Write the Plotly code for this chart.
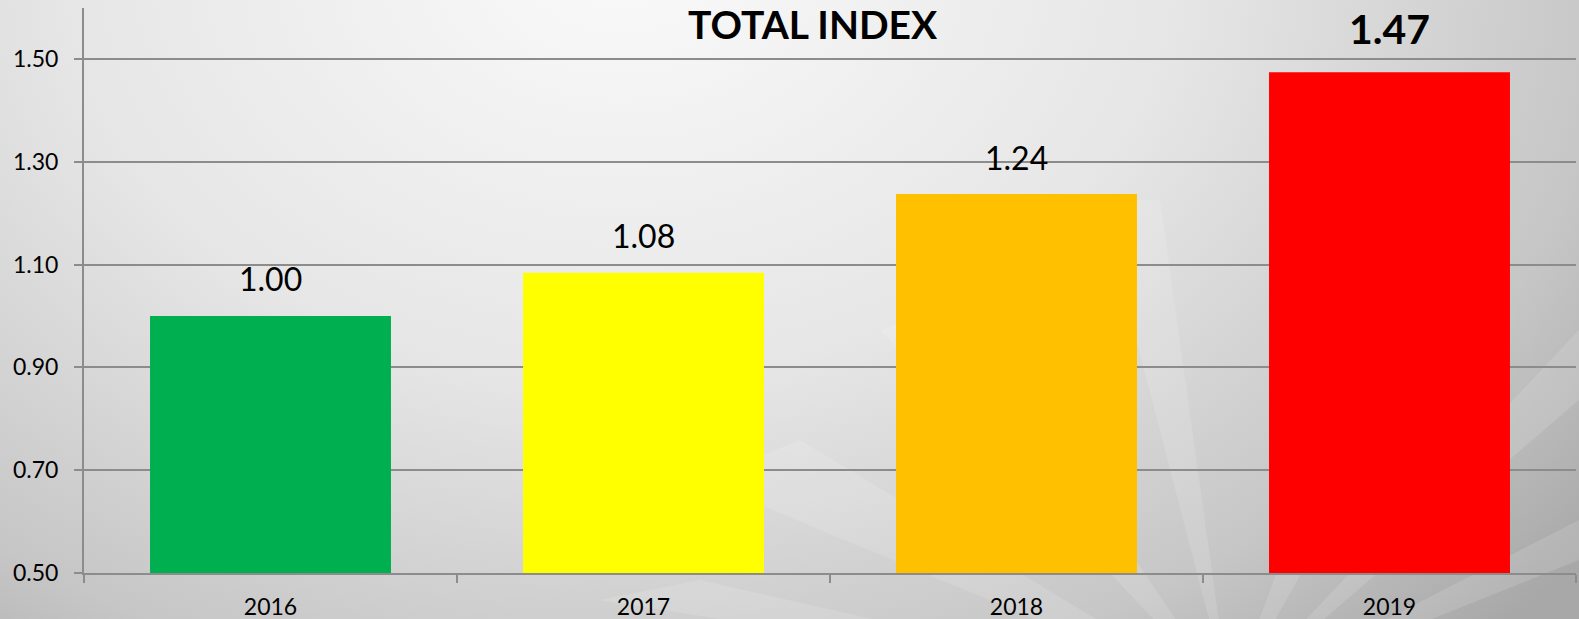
import base64
import plotly.graph_objects as go

# ---- data ----
years = ["2016", "2017", "2018", "2019"]
index_values = [1.00, 1.084, 1.237, 1.474]
bar_colors = ["#00B050", "#FFFF00", "#FFC000", "#FF0000"]
y_ticks = [0.50, 0.70, 0.90, 1.10, 1.30, 1.50]
title_text = "TOTAL INDEX"

W, H = 1579, 619
FONT = "Lato"
GRID = "#8c8c8c"

# ---- decorative background (gradient + soft light rays) ----
rays = ""
cx, cy = 1230, 700
ray_pts = [
    (1100, 200, 1160, 200), (880, 330, 960, 300), (700, 480, 800, 440),
    (1420, 180, 1500, 220), (1579, 330, 1579, 400), (1579, 520, 1579, 560),
    (600, 600, 700, 580),
]
for x1, y1, x2, y2 in ray_pts:
    rays += f'<polygon points="{cx},{cy} {x1},{y1} {x2},{y2}" fill="white" fill-opacity="0.13"/>'
svg = f'''<svg xmlns="http://www.w3.org/2000/svg" width="{W}" height="{H}" viewBox="0 0 {W} {H}" preserveAspectRatio="none">
<defs>
<radialGradient id="g" gradientUnits="userSpaceOnUse" cx="620" cy="-40" r="1250" gradientTransform="translate(620,-40) scale(1,0.75) translate(-620,40)">
<stop offset="0" stop-color="#fafafa"/>
<stop offset="0.45" stop-color="#e6e6e6"/>
<stop offset="0.8" stop-color="#c6c6c6"/>
<stop offset="1" stop-color="#a8a8a8"/>
</radialGradient>
</defs>
<rect x="0" y="0" width="{W}" height="{H}" fill="url(#g)"/>
{rays}
</svg>'''
bg_uri = "data:image/svg+xml;base64," + base64.b64encode(svg.encode()).decode()

fig = go.Figure()
fig.add_trace(go.Bar(
    x=years, y=index_values,
    marker=dict(color=bar_colors, line=dict(width=0)),
    hoverinfo="x+y",
))

annotations = []
for i, v in enumerate(index_values):
    last = i == len(index_values) - 1
    annotations.append(dict(
        x=i, y=v, xref="x", yref="y", text=(f"<b>{v:.2f}</b>" if last else f"{v:.2f}"),
        showarrow=False, yanchor="middle", yshift=(44 if last else 37),
        font=dict(family=FONT, size=(41 if last else 32), color="#000000"),
    ))
annotations.append(dict(
    x=0.5146, y=1, xref="paper", yref="paper", text=f"<b>{title_text}</b>",
    showarrow=False, xanchor="center", yanchor="top", borderpad=0,
    font=dict(family=FONT, size=39, color="#000000"),
))

fig.update_layout(
    width=W, height=H,
    margin=dict(l=0, r=0, t=0, b=0),
    paper_bgcolor="#dcdcdc", plot_bgcolor="rgba(0,0,0,0)",
    showlegend=False, bargap=0.354,
    font=dict(family=FONT, color="#000000"),
    annotations=annotations,
    images=[dict(source=bg_uri, xref="paper", yref="paper", x=0, y=1,
                 sizex=1, sizey=1, sizing="stretch", layer="below", xanchor="left", yanchor="top")],
    xaxis=dict(
        type="category", domain=[84 / W, 1576 / W], range=[-0.5, len(years) - 0.5],
        autorange=False,
        showline=True, linecolor=GRID, linewidth=2,
        ticks="outside", tickson="boundaries", ticklen=8, tickwidth=2, tickcolor=GRID,
        ticklabelstandoff=12, showgrid=False,
        tickfont=dict(family=FONT, size=23, color="#000000"),
        automargin=False,
    ),
    yaxis=dict(
        range=[0.5, 1.6], autorange=False, domain=[1 - 573 / H, 1 - 7.5 / H],
        tickvals=y_ticks, tickformat=".2f",
        showline=True, linecolor=GRID, linewidth=2,
        ticks="outside", ticklen=8, tickwidth=2, tickcolor=GRID,
        ticklabelstandoff=11,
        showgrid=True, gridcolor=GRID, gridwidth=2, zeroline=False,
        tickfont=dict(family=FONT, size=23, color="#000000"),
        automargin=False,
    ),
)

fig.write_html(
    "out.html",
    config={"displayModeBar": False},
    post_script="document.body.style.margin='0';document.body.style.padding='0';document.body.style.overflow='hidden';",
)
